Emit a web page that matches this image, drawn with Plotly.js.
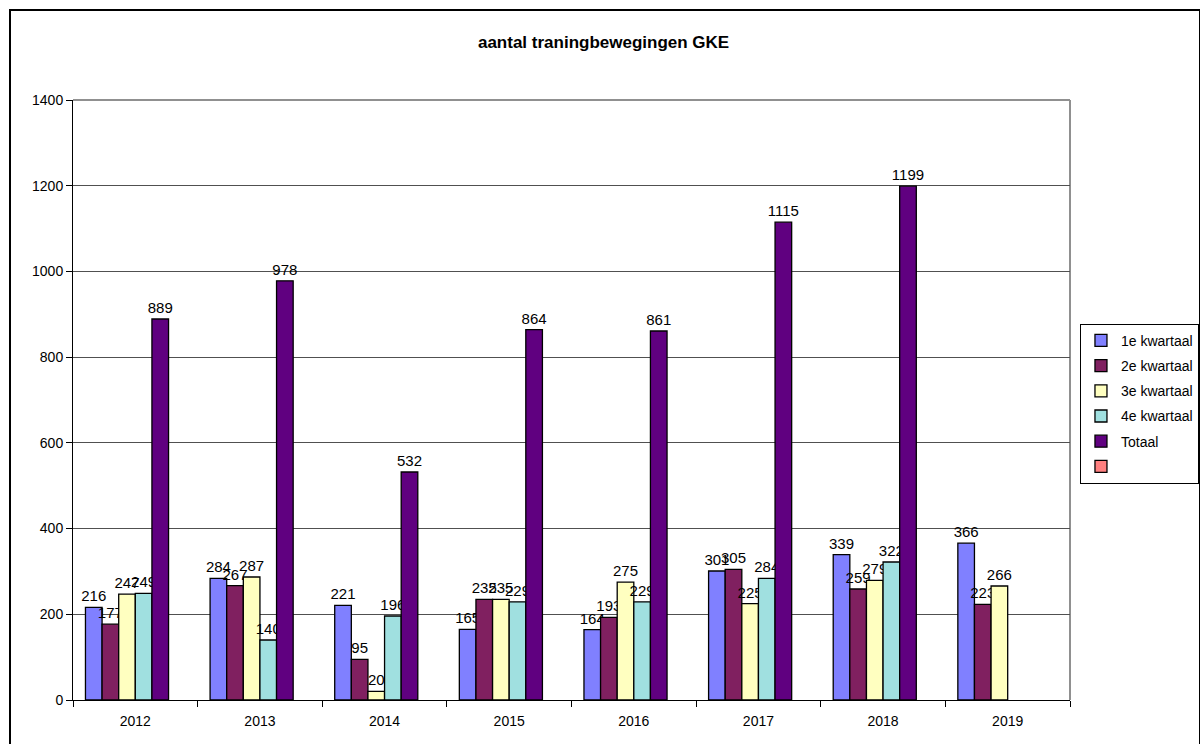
<!DOCTYPE html>
<html>
<head>
<meta charset="utf-8">
<script src="https://cdn.plot.ly/plotly-3.0.1.min.js"></script>
<style>
html,body{margin:0;padding:0;background:#fff;overflow:hidden;}
#chart{width:1200px;height:744px;}
#frame{position:absolute;left:9px;top:9px;width:1188px;height:800px;border:2px solid #000;pointer-events:none;}
</style>
</head>
<body>
<div id="chart"></div>
<div id="frame"></div>
<script>
const years = ['2012','2013','2014','2015','2016','2017','2018','2019'];
const q1 = [216, 284, 221, 165, 164, 301, 339, 366];
const q2 = [177, 267, 95, 235, 193, 305, 259, 223];
const q3 = [247, 287, 20, 235, 275, 225, 279, 266];
const q4 = [249, 140, 196, 229, 229, 284, 322, null];
const totaal = [889, 978, 532, 864, 861, 1115, 1199, null];
const empty = [null, null, null, null, null, null, null, null];

const seriesNames = ['1e kwartaal','2e kwartaal','3e kwartaal','4e kwartaal','Totaal',' '];
const seriesData = [q1, q2, q3, q4, totaal, empty];
const seriesColors = ['#8080FF','#802060','#FFFFC0','#A0E0E0','#600080','#FF8080'];

const traces = seriesData.map((vals, i) => ({
  type: 'bar',
  name: seriesNames[i],
  legendgroup: 'g' + i,
  x: years,
  y: vals,
  text: vals.map(v => v == null ? '' : String(v)),
  textposition: 'outside',
  constraintext: 'none',
  textfont: {family: 'Arial, Liberation Sans, sans-serif', size: 15, color: '#000'},
  cliponaxis: false,
  marker: {color: seriesColors[i], line: {color: '#000', width: 1.3}},
  hoverinfo: 'skip'
}));

const layout = {
  width: 1200, height: 744,
  margin: {l: 73, r: 130, t: 100, b: 44, autoexpand: false},
  paper_bgcolor: '#fff', plot_bgcolor: '#fff',
  font: {family: 'Arial, Liberation Sans, sans-serif', size: 14, color: '#000'},
  title: {text: '<b>aantal traningbewegingen GKE</b>', x: 0.503, xref: 'container', xanchor: 'center',
          y: 1 - 42/744, yref: 'container', yanchor: 'middle',
          font: {family: 'Arial, Liberation Sans, sans-serif', size: 17, color: '#000'}},
  barmode: 'group', bargap: 0.2, bargroupgap: 0,
  showlegend: true,
  legend: {x: 1.01, xanchor: 'left', y: 0.627, yanchor: 'top', bordercolor: '#000', borderwidth: 1,
           bgcolor: '#fff', font: {size: 14, family: 'Arial, Liberation Sans, sans-serif'},
           traceorder: 'grouped', tracegroupgap: 4, itemwidth: 30},
  xaxis: {type: 'category', showline: true, linecolor: '#000', linewidth: 1, ticks: 'outside', ticklen: 6,
          tickcolor: '#000', tickson: 'boundaries', showgrid: false, zeroline: false,
          ticklabelstandoff: 8, tickfont: {size: 14}},
  yaxis: {range: [0, 1400], dtick: 200, showline: true, linecolor: '#000', linewidth: 1, ticks: 'outside',
          ticklen: 6, tickcolor: '#000', showgrid: true, gridcolor: '#505050', gridwidth: 1, zeroline: false,
          tickfont: {size: 14}},
  shapes: [
    {type: 'line', xref: 'paper', yref: 'paper', x0: 0, x1: 1, y0: 1, y1: 1, line: {color: '#909090', width: 2}, layer: 'below'},
    {type: 'line', xref: 'paper', yref: 'paper', x0: 1, x1: 1, y0: 0, y1: 1, line: {color: '#909090', width: 2}, layer: 'below'}
  ]
};

Plotly.newPlot('chart', traces, layout, {displayModeBar: false, staticPlot: true});
</script>
</body>
</html>
